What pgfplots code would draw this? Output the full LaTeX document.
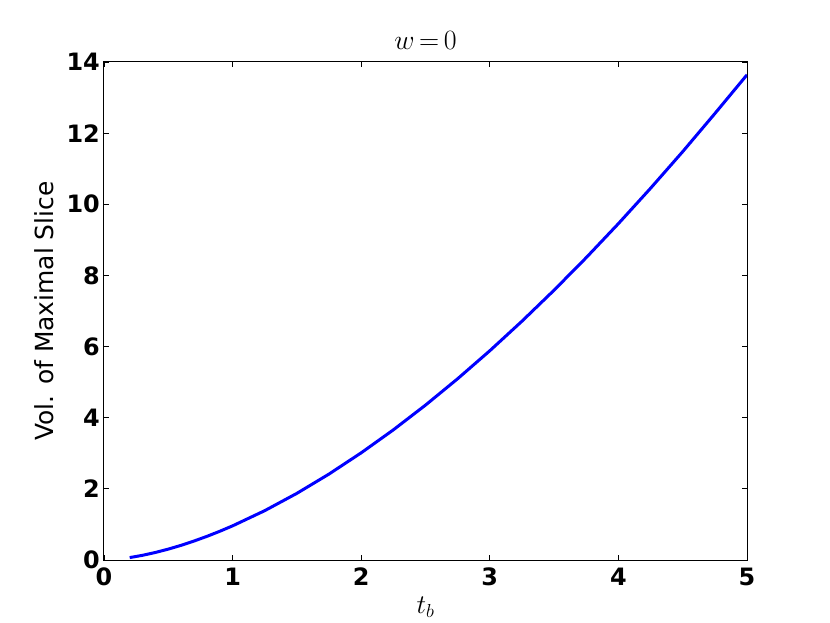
\documentclass[border=0pt]{standalone}
\usepackage{fix-cm}
\usepackage{fontspec}
\setmainfont{DejaVu Sans}
\usepackage{pgfplots}
\pgfplotsset{compat=1.18}

\begin{document}
\begin{tikzpicture}
\useasboundingbox (-104bp,-63bp) rectangle (726bp,560bp);
\begin{axis}[
    at={(0,0)}, anchor=south west,
    scale only axis,
    width=643bp, height=498bp,
    xmin=0, xmax=5, ymin=0, ymax=14,
    xtick={0,1,2,3,4,5},
    ytick={0,2,4,6,8,10,12,14},
    tick align=inside,
    major tick length=5bp,
    every tick/.style={black, line width=0.8bp},
    axis line style={black, line width=1bp},
    /pgf/number format/assume math mode=true,
    ticklabel style={font=\fontsize{24}{24}\selectfont\bfseries, inner sep=0pt},
    xticklabel style={anchor=north, yshift=-8bp},
    yticklabel style={anchor=east, xshift=-4bp},
    title={$w\,{=}\,0$},
    title style={font=\fontsize{28}{28}\selectfont, at={(rel axis cs:0.5,1)}, anchor=base, yshift=7bp},
    xlabel={$t_b$},
    xlabel style={font=\fontsize{27}{27}\selectfont, at={(rel axis cs:0.5,0)}, anchor=center, yshift=-47bp},
    ylabel={Vol. of Maximal Slice},
    ylabel style={font=\fontsize{25}{25}\selectfont, at={(rel axis cs:0,0.5)}, anchor=center, yshift=60bp},
]
\addplot[color=blue, line width=3bp] coordinates {
    (0.2,0.068) (0.3,0.132) (0.4,0.212) (0.5,0.306) (0.6,0.413)
    (0.7,0.533) (0.8,0.664) (0.9,0.807) (1.0,0.960) (1.25,1.387)
    (1.5,1.874) (1.75,2.417) (2.0,3.013) (2.25,3.659) (2.5,4.354)
    (2.75,5.096) (3.0,5.882) (3.25,6.713) (3.5,7.586) (3.75,8.501)
    (4.0,9.456) (4.25,10.45) (4.5,11.48) (4.75,12.55) (5.0,13.64)
};
\end{axis}
\end{tikzpicture}
\end{document}
